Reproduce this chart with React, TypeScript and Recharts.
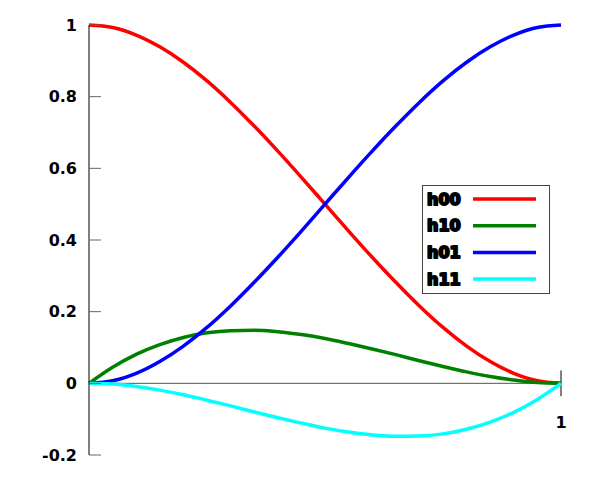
import { LineChart, Line, XAxis, YAxis, ReferenceLine, Legend } from 'recharts';

// parameter t on [0, 1]
const tValues = [0, 0.05, 0.1, 0.15, 0.2, 0.25, 0.3, 0.35, 0.4, 0.45, 0.5, 0.55, 0.6, 0.65, 0.7, 0.75, 0.8, 0.85, 0.9, 0.95, 1];

const h00 = [1, 0.993, 0.972, 0.939, 0.896, 0.844, 0.784, 0.718, 0.648, 0.575, 0.5, 0.425, 0.352, 0.282, 0.216, 0.156, 0.104, 0.061, 0.028, 0.007, 0];
const h10 = [0, 0.045, 0.081, 0.108, 0.128, 0.141, 0.147, 0.148, 0.144, 0.136, 0.125, 0.111, 0.096, 0.08, 0.063, 0.047, 0.032, 0.019, 0.009, 0.002, 0];
const h01 = [0, 0.007, 0.028, 0.061, 0.104, 0.156, 0.216, 0.282, 0.352, 0.425, 0.5, 0.575, 0.648, 0.718, 0.784, 0.844, 0.896, 0.939, 0.972, 0.993, 1];
const h11 = [0, -0.002, -0.009, -0.019, -0.032, -0.047, -0.063, -0.08, -0.096, -0.111, -0.125, -0.136, -0.144, -0.148, -0.147, -0.141, -0.128, -0.108, -0.081, -0.045, 0];

const yTicks = [-0.2, 0, 0.2, 0.4, 0.6, 0.8, 1];
const xTickLabel = '1';

const series = [
  { key: 'h00', color: '#ff0000' },
  { key: 'h10', color: '#008000' },
  { key: 'h01', color: '#0000ff' },
  { key: 'h11', color: '#00ffff' },
];

const data = tValues.map((t, i) => ({ t, h00: h00[i], h10: h10[i], h01: h01[i], h11: h11[i] }));

const FONT = '"DejaVu Sans", sans-serif';

const YTick = (props: any) => {
  const { x, y, payload } = props;
  return (
    <g>
      <line x1={x + 12} x2={x + 24} y1={y} y2={y} stroke="#666" strokeWidth={1} />
      <text x={x} y={y} textAnchor="end" dominantBaseline="central" fontFamily={FONT} fontWeight="bold" fontSize={16} fill="#000">
        {payload.value}
      </text>
    </g>
  );
};

// legend keeps the plotting order (Recharts would sort it by name)
const renderLegend = () => (
  <svg width={128} height={109}>
    <rect x={0.5} y={0.5} width={127} height={108} fill="#fff" stroke="#444" strokeWidth={1} />
    {series.map((s, i) => {
      const cy = 14 + i * 26.7;
      return (
        <g key={s.key}>
          <text x={5} y={cy} dominantBaseline="central" fontFamily={FONT} fontWeight="bold" fontSize={16} fill="#000" stroke="#000" strokeWidth={2} strokeLinejoin="round">
            {s.key}
          </text>
          <line x1={51} x2={114} y1={cy} y2={cy} stroke={s.color} strokeWidth={3.5} />
        </g>
      );
    })}
  </svg>
);

export default function App() {
  return (
    <div style={{ position: 'absolute', left: 0, top: 0, background: '#fff' }}>
      <LineChart width={600} height={480} data={data} margin={{ top: 25, right: 39, bottom: 25, left: 0 }}>
        <XAxis dataKey="t" type="number" domain={[0, 1]} hide />
        <YAxis
          type="number"
          domain={[-0.2, 1]}
          ticks={yTicks}
          interval={0}
          width={89}
          axisLine={{ stroke: '#000', strokeWidth: 1 }}
          tickLine={false}
          tickSize={0}
          tickMargin={12}
          tick={<YTick />}
        />
        <ReferenceLine y={0} stroke="#555" strokeWidth={1} />
        <ReferenceLine
          segment={[{ x: 1, y: -0.036 }, { x: 1, y: 0.036 }]}
          stroke="#000"
          strokeWidth={1}
          label={{ value: xTickLabel, position: 'bottom', offset: 20, fontFamily: FONT, fontWeight: 'bold', fontSize: 16, fill: '#000' }}
        />
        {series.map((s) => (
          <Line key={s.key} type="monotone" dataKey={s.key} stroke={s.color} strokeWidth={3.5} dot={false} isAnimationActive={false} />
        ))}
        <Legend
          layout="vertical"
          align="center"
          verticalAlign="middle"
          content={renderLegend}
          wrapperStyle={{ left: 422, top: 185, width: 128, height: 109 }}
        />
      </LineChart>
    </div>
  );
}
